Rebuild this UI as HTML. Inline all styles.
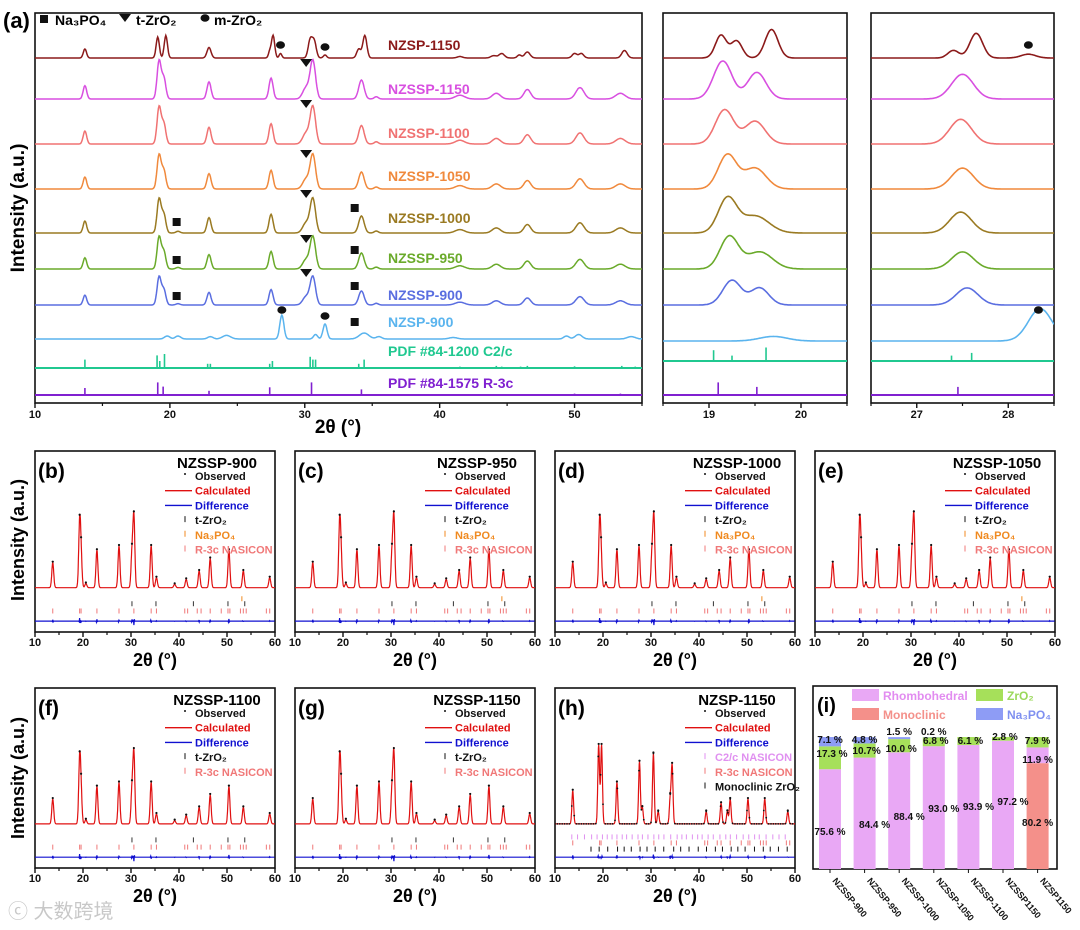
<!DOCTYPE html>
<html><head><meta charset="utf-8"><style>
html,body{margin:0;padding:0;background:#fff;}
svg{display:block;font-family:"Liberation Sans",Arial,sans-serif;}
</style></head><body>
<svg id="fig" width="1080" height="930" viewBox="0 0 1080 930" xmlns="http://www.w3.org/2000/svg">
<g id="root"></g>
<text x="8" y="918" font-size="20" fill="#c8c8c8" font-family="'Liberation Sans','Noto Sans CJK SC',sans-serif">ⓒ 大数跨境</text>
</svg>
<script>
// ---------- DATA ----------
const mainNames=["NZSP-1150","NZSSP-1150","NZSSP-1100","NZSSP-1050","NZSSP-1000","NZSSP-950","NZSSP-900","NZSP-900"];
const mainColors=["#8b1a1a","#d84fe0","#f07272","#f0893c","#9a7a22","#6aaa2a","#5a6ee0","#5ab4ee"];
const nzsp1150Peaks=[[13.7,.3,.12],[19.1,.7,.12],[19.7,.75,.12],[22.9,.35,.15],[27.4,.2,.1],[27.65,.75,.12],[28.2,.15,.1],[30.4,.6,.15],[30.7,.55,.15],[31.5,.1,.12],[34.0,.3,.15],[34.45,.75,.15],[41.5,.05,.2],[44.0,.08,.2],[44.6,.15,.2],[45.9,.1,.15],[46.5,.2,.2],[50.0,.15,.18],[50.5,.15,.18],[53.7,.25,.2]];
const nzsspPeaks=[[13.7,.35,.13],[19.2,1,.15],[19.55,.55,.15],[22.9,.45,.15],[27.5,.55,.15],[30.1,.3,.25],[30.6,1,.2],[34.2,.5,.2],[35.3,.06,.15],[41.5,.1,.35],[44.2,.15,.3],[46.5,.25,.25],[50.4,.3,.3],[53.4,.15,.35]];
const nzsp900Peaks=[[19.8,.1,.2],[20.6,.1,.2],[23.0,.08,.2],[24.2,.12,.3],[28.3,.8,.15],[30.8,.15,.15],[31.5,.5,.15],[34.4,.2,.35],[35.5,.08,.2],[41.0,.05,.3],[49.4,.1,.2],[50.3,.15,.25],[54.2,.08,.3]];
const mainScale=[30,38,37,34,34,32,28,30];
const pdf1200=[[13.7,.6],[19.05,.9],[19.25,.5],[19.6,1],[22.8,.3],[23.0,.3],[27.4,.3],[27.6,.5],[30.4,.8],[30.6,.6],[30.8,.6],[34.0,.3],[34.4,.6],[41.5,.1],[44.2,.15],[44.6,.1],[46.0,.1],[46.5,.15],[50.0,.12],[53.5,.15],[54.5,.1]];
const pdf1575=[[13.7,.5],[19.1,.9],[19.5,.6],[22.9,.3],[27.4,.55],[30.5,.9],[34.2,.4],[50.0,.1],[53.4,.1]];
const inset1Peaks=[[[19.13,.6,.06],[19.3,.45,.06],[19.68,.75,.07]],[[19.15,1,.1],[19.52,.7,.1]],[[19.17,.9,.1],[19.5,.6,.11]],[[19.2,.9,.1],[19.5,.55,.12]],[[19.2,.9,.1],[19.5,.45,.15]],[[19.22,.85,.1],[19.55,.45,.14]],[[19.25,.65,.1],[19.55,.45,.1]],[[19.7,.12,.15]]];
const inset2Peaks=[[[27.4,.2,.06],[27.65,.65,.07],[28.22,.1,.08]],[[27.5,.65,.12]],[[27.48,.65,.12]],[[27.5,.55,.12]],[[27.48,.55,.12]],[[27.5,.45,.12]],[[27.55,.45,.12]],[[28.35,.85,.13]]];
const inset1Pdf1200=[[19.05,.6],[19.25,.3],[19.62,.75]],inset1Pdf1575=[[19.1,.7],[19.52,.45]];
const inset2Pdf1200=[[27.38,.3],[27.6,.45]],inset2Pdf1575=[[27.45,.45]];
const baselines=[58,99,144,189,233,269,305,339];
const pdfBase=[368,395];
// refinement
const refTitles=["NZSSP-900","NZSSP-950","NZSSP-1000","NZSSP-1050","NZSSP-1100","NZSSP-1150","NZSP-1150"];
const refLetters=["(b)","(c)","(d)","(e)","(f)","(g)","(h)"];
const refPeaks=[[13.7,.3],[19.3,.75],[19.6,.35],[20.6,.05],[22.9,.45],[27.5,.5],[30.6,.85],[30.2,.4],[34.2,.5],[35.3,.12],[39.1,.04],[41.5,.1],[44.2,.2],[46.5,.35],[50.4,.45],[53.4,.2],[58.9,.12]];
const refPeaksH=[[13.7,.4],[19.1,.95],[19.7,.95],[22.9,.5],[27.6,.75],[28.2,.2],[30.5,.85],[31.5,.15],[34.0,.3],[34.4,.7],[41.5,.15],[44.6,.25],[45.9,.15],[46.5,.3],[50.2,.3],[53.7,.3],[58.5,.15]];
// phase fractions
const phaseCats=["NZSSP-900","NZSSP-950","NZSSP-1000","NZSSP-1050","NZSSP-1100","NZSSP1150","NZSP1150"];
const monoVals=[0,0,0,0,0,0,80.2];
const rhomboVals=[75.6,84.4,88.4,93.0,93.9,97.2,11.9];
const zrVals=[17.3,10.7,10.0,6.8,6.1,2.8,7.9];
const naVals=[7.1,4.8,1.5,0.2,0,0,0];

// ---------- HELPERS ----------
const NS="http://www.w3.org/2000/svg";
const root=document.getElementById('root');
function el(tag,attrs,parent,txt){const e=document.createElementNS(NS,tag);for(const k in attrs)e.setAttribute(k,attrs[k]);if(txt!==undefined)e.textContent=txt;(parent||root).appendChild(e);return e;}
function gauss(x,peaks){let s=0;for(const p of peaks){const d=(x-p[0])/p[2];s+=p[1]*Math.exp(-0.5*d*d);}return s;}
function lin(d0,d1,r0,r1){return v=>r0+(v-d0)*(r1-r0)/(d1-d0);}
function profile(sx,x0,x1,base,k,peaks,step){let d="";for(let x=x0;x<=x1+1e-9;x+=step){const y=base-k*gauss(x,peaks);d+=(d?"L":"M")+sx(x).toFixed(1)+","+y.toFixed(1);}return d;}
let clipN=0;
function frame(x,y,w,h,name){const id="c"+(clipN++);const cp=el('clipPath',{id:id});el('rect',{x:x,y:y,width:w,height:h},cp);el('rect',{x:x,y:y,width:w,height:h,fill:"none",stroke:"#111","stroke-width":1.6,});return id;}
function xticks(sx,y,majors,minors,labelY,fs,name){for(const m of minors)el('line',{x1:sx(m),x2:sx(m),y1:y,y2:y+3,stroke:"#111","stroke-width":1.2});for(const m of majors){el('line',{x1:sx(m),x2:sx(m),y1:y,y2:y+5,stroke:"#111","stroke-width":1.4});const t=el('text',{x:sx(m),y:labelY,"font-size":fs,"font-weight":"bold","text-anchor":"middle",fill:"#111"},null,String(m));}}

// ---------- PANEL A ----------
const ax=lin(10,55,35,642);
const cA=frame(35,13,607,390,"panel-a-frame");
const gA=el('g',{"clip-path":"url(#"+cA+")"});
const allPeaks=[nzsp1150Peaks,nzsspPeaks,nzsspPeaks,nzsspPeaks,nzsspPeaks,nzsspPeaks,nzsspPeaks,nzsp900Peaks];
for(let i=0;i<8;i++){
  let pk=allPeaks[i];
  if(i>=4&&i<=6) pk=pk.concat([[20.6,.05,.15]]);
  const p=el('path',{d:profile(ax,10,55,baselines[i],mainScale[i],pk,0.05),fill:"none",stroke:mainColors[i],"stroke-width":1.5},gA);
  
  
}
const pdfs=[[pdf1200,"#20c890"],[pdf1575,"#8020d0"]];
pdfs.forEach((pp,j)=>{el('line',{x1:35,x2:642,y1:pdfBase[j],y2:pdfBase[j],stroke:pp[1],"stroke-width":2},gA);
  for(const s of pp[0]){const l=el('line',{x1:ax(s[0]),x2:ax(s[0]),y1:pdfBase[j],y2:pdfBase[j]-14*s[1],stroke:pp[1],"stroke-width":1.6},gA);}});
const labYs=[45,89,133,176,218,258,295,322];
mainNames.forEach((n,i)=>{const t=el('text',{x:388,y:labYs[i]+5,"font-size":14,"font-weight":"bold",fill:mainColors[i]},null,n);});
el('text',{x:388,y:356,"font-size":14,"font-weight":"bold",fill:"#20c890",},null,"PDF #84-1200 C2/c");
el('text',{x:388,y:388,"font-size":14,"font-weight":"bold",fill:"#8020d0",},null,"PDF #84-1575 R-3c");
function tri(x,y){el('path',{d:`M${x-6},${y-4}L${x+6},${y-4}L${x},${y+4}Z`,fill:"#111",});}
function sq(x,y){el('rect',{x:x-4,y:y-4,width:8,height:8,fill:"#111",});}
function dot(x,y){el('ellipse',{cx:x,cy:y,rx:4.5,ry:3.8,fill:"#111",});}
[63,104,154,194,239,273].forEach(y=>tri(ax(30.1),y));
[222,260,296].forEach(y=>sq(ax(20.5),y));
[208,250,286,322].forEach(y=>sq(ax(33.7),y));
dot(ax(28.2),45);dot(ax(31.5),47);dot(ax(28.3),310);dot(ax(31.5),316);
xticks(ax,403,[10,20,30,40,50],[15,25,35,45,55],418,11,"panel-a-x");
el('text',{x:338,y:433,"font-size":19,"font-weight":"bold","text-anchor":"middle",},null,"2θ (°)");
el('text',{x:3,y:28,"font-size":22,"font-weight":"bold",},null,"(a)");
sq(44,19);el('text',{x:55,y:25,"font-size":14,"font-weight":"bold"},null,"Na₃PO₄");
tri(125,18);el('text',{x:136,y:25,"font-size":14,"font-weight":"bold"},null,"t-ZrO₂");
dot(205,18);el('text',{x:214,y:25,"font-size":14,"font-weight":"bold"},null,"m-ZrO₂");
el('text',{x:24,y:208,"font-size":19,"font-weight":"bold","text-anchor":"middle",transform:"rotate(-90 24 208)",},null,"Intensity (a.u.)");

function inset(x0,x1,d0,d1,peaksArr,p1200,p1575,ticks,name){
  const sx=lin(d0,d1,x0,x1);const id=frame(x0,13,x1-x0,390,name);const g=el('g',{"clip-path":"url(#"+id+")"});
  for(let i=0;i<8;i++){const p=el('path',{d:profile(sx,d0,d1,baselines[i]-(i==7?-2:0),38,peaksArr[i],0.01),fill:"none",stroke:mainColors[i],"stroke-width":1.6},g);}
  [[p1200,"#20c890"],[p1575,"#8020d0"]].forEach((pp,j)=>{const b=pdfBase[j]-(j==0?7:0);el('line',{x1:x0,x2:x1,y1:b,y2:b,stroke:pp[1],"stroke-width":2},g);for(const s of pp[0])el('line',{x1:sx(s[0]),x2:sx(s[0]),y1:b,y2:b-18*s[1],stroke:pp[1],"stroke-width":1.6},g);});
  const minors=[];for(let v=Math.ceil(d0*2)/2;v<=d1;v+=0.5)if(!ticks.includes(v))minors.push(v);
  xticks(sx,403,ticks,minors,418,11,name);return sx;}
inset(663,847,18.5,20.5,inset1Peaks,inset1Pdf1200,inset1Pdf1575,[19,20],"inset-19");
const s2=inset(871,1054,26.5,28.5,inset2Peaks,inset2Pdf1200,inset2Pdf1575,[27,28],"inset-27");
dot(s2(28.22),45);dot(s2(28.33),310);

// ---------- REFINEMENT PANELS ----------
const pos=[[35,451],[295,451],[555,451],[815,451],[35,688],[295,688],[555,688]];
const legSets=[0,0,0,0,1,1,2];
const legendDefs=[
 [["Observed","#111","dot"],["Calculated","#e01010","line"],["Difference","#1010d0","line"],["t-ZrO₂","#111","tick"],["Na₃PO₄","#f08a20","tick"],["R-3c NASICON","#f07878","tick"]],
 [["Observed","#111","dot"],["Calculated","#e01010","line"],["Difference","#1010d0","line"],["t-ZrO₂","#111","tick"],["R-3c NASICON","#f07878","tick"]],
 [["Observed","#111","dot"],["Calculated","#e01010","line"],["Difference","#1010d0","line"],["C2/c NASICON","#e090f0","tick"],["R-3c NASICON","#f07878","tick"],["Monoclinic ZrO₂","#111","tick"]]];
const rTick=[13.7,19.3,19.6,22.9,27.5,30.6,34.2,35.3,41.2,41.8,43.8,44.6,46.5,48.8,50.2,50.6,52.8,53.4,54.0,58.2,58.9];
const tTick=[30.2,35.2,43.0,50.2,53.7];
for(let k=0;k<7;k++){
  const [x0,y0]=pos[k];const h=k<4?181:180;const w=240;const sx=lin(10,60,x0,x0+w);
  const id=frame(x0,y0,w,h,"panel-"+refLetters[k][1]+"-frame");const g=el('g',{"clip-path":"url(#"+id+")"});
  const base=y0+h*0.755;const pk=(k==6?refPeaksH:refPeaks).map(p=>[p[0],p[1],k==6?0.18:0.2]);
  const amp=h*0.46;
  const calc=el('path',{d:profile(sx,10,60,base,amp,pk,0.05),fill:"none",stroke:"#e01010","stroke-width":1.2},g);
  
  for(const p of pk){const yy=base-amp*gauss(p[0],pk);el('circle',{cx:sx(p[0]),cy:yy-1,r:1.1,fill:"#111"},g);}
  if(k==6){for(let x=10;x<60;x+=0.5){el('circle',{cx:sx(x),cy:base-amp*gauss(x,pk),r:0.9,fill:"#111"},g);}}
  const db=y0+h*0.94;let dd="";for(let x=10;x<=60;x+=0.1){const g2=gauss(x,pk.map(p=>[p[0],p[1],0.08]));const dy=Math.sin(x*37)*g2*5;dd+=(dd?"L":"M")+sx(x).toFixed(1)+","+(db+dy).toFixed(1);}
  const dp=el('path',{d:dd,fill:"none",stroke:"#1010d0","stroke-width":1.2},g);
  const ty1=y0+h*0.83,ty2=y0+h*0.87;
  if(k<6){for(const t of tTick)el('line',{x1:sx(t),x2:sx(t),y1:ty1,y2:ty1+5,stroke:"#333","stroke-width":1},g);
    for(const t of rTick)el('line',{x1:sx(t),x2:sx(t),y1:ty2,y2:ty2+5,stroke:"#f07878","stroke-width":1},g);
    if(k<4)el('line',{x1:sx(53.1),x2:sx(53.1),y1:ty1-5,y2:ty1,stroke:"#f08a20","stroke-width":1},g);}
  else{for(let t=13.5;t<59;t+=0.9+((t*7)%1)*0.6){el('line',{x1:sx(t),x2:sx(t),y1:ty1-3,y2:ty1+2,stroke:"#e090f0","stroke-width":1},g);}
    for(const t of rTick)el('line',{x1:sx(t),x2:sx(t),y1:ty1+3,y2:ty1+8,stroke:"#f07878","stroke-width":1},g);
    for(let t=17.5;t<59;t+=1.3+((t*3)%1)*0.8)el('line',{x1:sx(t),x2:sx(t),y1:ty2+2,y2:ty2+7,stroke:"#111","stroke-width":1},g);}
  xticks(sx,y0+h,[10,20,30,40,50,60],[15,25,35,45,55],y0+h+14,11,"panel-"+refLetters[k][1]+"-x");
  el('text',{x:x0+w/2,y:y0+h+34,"font-size":18,"font-weight":"bold","text-anchor":"middle",},null,"2θ (°)");
  el('text',{x:x0+3,y:y0+27,"font-size":21,"font-weight":"bold",},null,refLetters[k]);
  el('text',{x:x0+182,y:y0+17,"font-size":15,"font-weight":"bold","text-anchor":"middle",},null,refTitles[k]);
  legendDefs[legSets[k]].forEach((it,i)=>{const ly=y0+29+i*14.7;const tx=x0+160;
    if(it[2]=="line")el('line',{x1:x0+130,x2:x0+157,y1:ly-4,y2:ly-4,stroke:it[1],"stroke-width":1.4});
    else if(it[2]=="dot")el('circle',{cx:x0+150,cy:ly-6,r:1,fill:it[1]});
    else el('line',{x1:x0+150,x2:x0+150,y1:ly-8,y2:ly-2,stroke:it[1],"stroke-width":1});
    const t=el('text',{x:tx,y:ly,"font-size":11,"font-weight":"bold",fill:it[1]},null,it[0]);});
}
el('text',{x:24,y:540,"font-size":18,"font-weight":"bold","text-anchor":"middle",transform:"rotate(-90 24 540)",},null,"Intensity (a.u.)");
el('text',{x:24,y:778,"font-size":18,"font-weight":"bold","text-anchor":"middle",transform:"rotate(-90 24 778)",},null,"Intensity (a.u.)");

// ---------- PANEL I ----------
frame(813,686,244,183,"panel-i-frame");
const sy=v=>869-v*1.32;const bx=i=>830+i*34.6;const bw=22;
const segs=[[monoVals,"#f4908a"],[rhomboVals,"#e9a8f5"],[zrVals,"#a6e05a"],[naVals,"#8e9cf5"]];
phaseCats.forEach((c,i)=>{let acc=0;segs.forEach(([arr,col])=>{const v=arr[i];if(v>0){const r=el('rect',{x:bx(i)-bw/2,y:sy(acc+v),width:bw,height:sy(acc)-sy(acc+v),fill:col});}acc+=v;});
  const t=el('text',{x:bx(i)+2,y:881,"font-size":9,"font-weight":"bold",transform:`rotate(50 ${bx(i)+2} 881)`,fill:"#111"},null,c);
  el('line',{x1:bx(i),x2:bx(i),y1:869,y2:873,stroke:"#111"});});
const vlab=(x,y,s)=>{const t=el('text',{x:x,y:y,"font-size":10,"font-weight":"bold","text-anchor":"middle",fill:"#111"},null,s);};
const rLabY=[835,828,820,812,810,805,826];
phaseCats.forEach((c,i)=>{
  if(i<6)vlab(bx(i)+(i?10:0),rLabY[i],rhomboVals[i].toFixed(1)+" %");else{vlab(bx(i),rLabY[i],monoVals[i].toFixed(1)+" %");vlab(bx(i),763,rhomboVals[i].toFixed(1)+" %");}
  const zy=[757,754,752,744,744,740,744][i];vlab(bx(i)+(i==6?0:2),zy,zrVals[i].toFixed(1)+(i==1?"%":" %"));
  if(naVals[i]>0)vlab(bx(i),[743,743,735,735][i],naVals[i].toFixed(1)+" %");
});
const lg=[["Rhombohedral","#e9a8f5","#e28cf0",852,689],["ZrO₂","#a6e05a","#9ad85a",976,689],["Monoclinic","#f4908a","#f4908a",852,708],["Na₃PO₄","#8e9cf5","#7f90f0",976,708]];
lg.forEach(l=>{el('rect',{x:l[3],y:l[4],width:27,height:12,fill:l[1]});const t=el('text',{x:l[3]+31,y:l[4]+11,"font-size":12,"font-weight":"bold",fill:l[2]},null,l[0]);});
el('text',{x:817,y:712,"font-size":20,"font-weight":"bold",},null,"(i)");
</script>
</body></html>
